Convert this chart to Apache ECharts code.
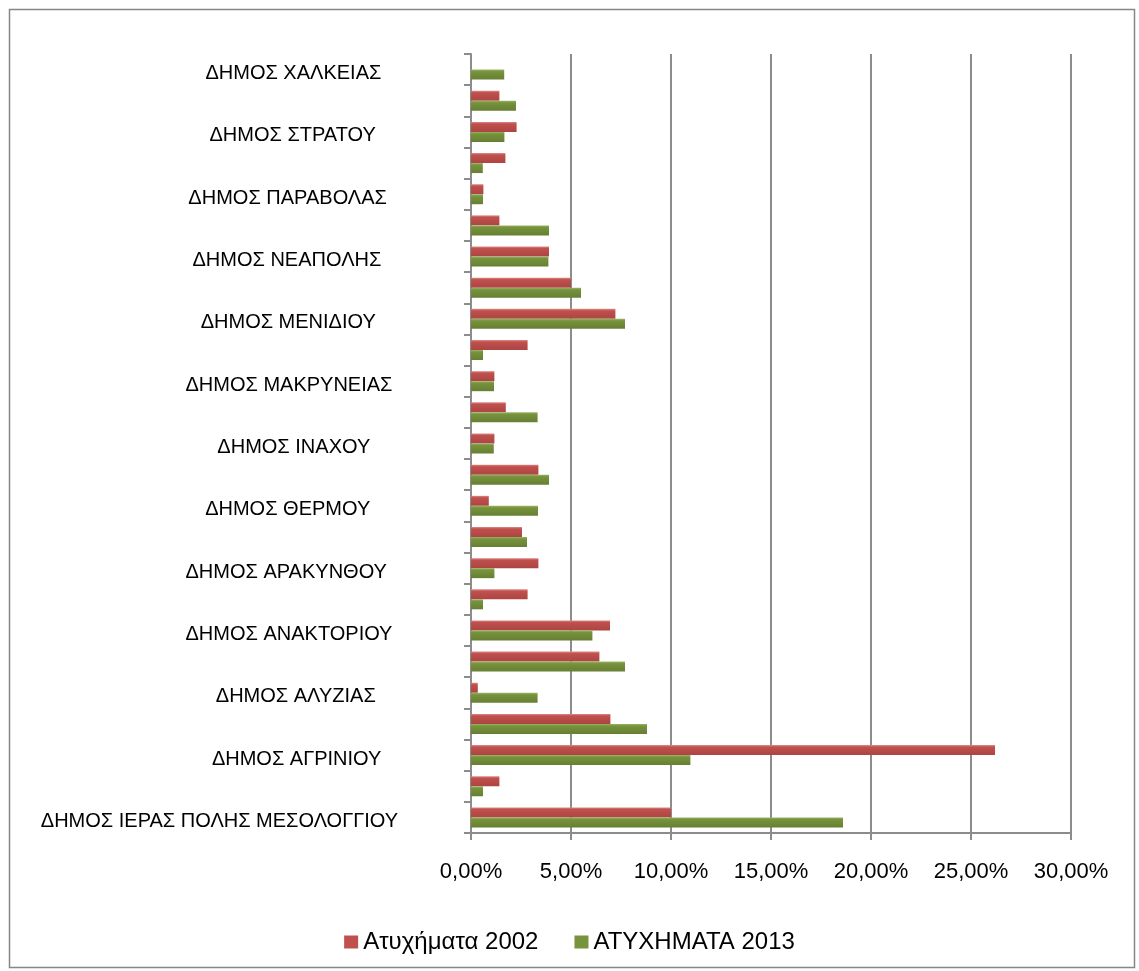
<!DOCTYPE html>
<html>
<head>
<meta charset="utf-8">
<title>Ατυχήματα ανά δήμο</title>
<script src="https://cdn.jsdelivr.net/npm/echarts@6/dist/echarts.min.js"></script>
<style>
	html, body { margin: 0; padding: 0; background: #fff; }
	#chart { width: 1139px; height: 971px; }
</style>
</head>
<body>
<div id="chart"></div>
<script>
//δήμοι, από κάτω προς τα πάνω (μόνο κάθε δεύτερη ετικέτα φαίνεται)
var categories = [
	'ΔΗΜΟΣ ΙΕΡΑΣ ΠΟΛΗΣ ΜΕΣΟΛΟΓΓΙΟΥ',
	'ΔΗΜΟΣ ΑΓΓΕΛΟΚΑΣΤΡΟΥ',
	'ΔΗΜΟΣ ΑΓΡΙΝΙΟΥ   ',
	'ΔΗΜΟΣ ΑΙΤΩΛΙΚΟΥ',
	'ΔΗΜΟΣ ΑΛΥΖΙΑΣ    ',
	'ΔΗΜΟΣ ΑΜΦΙΛΟΧΙΑΣ',
	'ΔΗΜΟΣ ΑΝΑΚΤΟΡΙΟΥ ',
	'ΔΗΜΟΣ ΑΠΟΔΟΤΙΑΣ',
	'ΔΗΜΟΣ ΑΡΑΚΥΝΘΟΥ  ',
	'ΔΗΜΟΣ ΑΣΤΑΚΟΥ',
	'ΔΗΜΟΣ ΘΕΡΜΟΥ     ',
	'ΔΗΜΟΣ ΘΕΣΤΙΕΩΝ',
	'ΔΗΜΟΣ ΙΝΑΧΟΥ     ',
	'ΔΗΜΟΣ ΚΕΚΡΟΠΙΑΣ',
	'ΔΗΜΟΣ ΜΑΚΡΥΝΕΙΑΣ ',
	'ΔΗΜΟΣ ΜΕΔΕΩΝΟΣ',
	'ΔΗΜΟΣ ΜΕΝΙΔΙΟΥ    ',
	'ΔΗΜΟΣ ΝΑΥΠΑΚΤΟΥ',
	'ΔΗΜΟΣ ΝΕΑΠΟΛΗΣ   ',
	'ΔΗΜΟΣ ΟΙΝΙΑΔΩΝ',
	'ΔΗΜΟΣ ΠΑΡΑΒΟΛΑΣ  ',
	'ΔΗΜΟΣ ΠΑΡΑΚΑΜΠΥΛΙΩΝ',
	'ΔΗΜΟΣ ΣΤΡΑΤΟΥ    ',
	'ΔΗΜΟΣ ΦΥΤΕΙΩΝ',
	'ΔΗΜΟΣ ΧΑΛΚΕΙΑΣ   '
];
//ονόματα σειρών
var seriesNames = ['Ατυχήματα 2002', 'ΑΤΥΧΗΜΑΤΑ 2013'];
//ποσοστά (%) 2002
var accidents2002 = [10.0, 1.42, 26.2, 6.97, 0.34, 6.42, 6.95, 2.83, 3.37, 2.55, 0.89, 3.37, 1.17, 1.74, 1.17, 2.83, 7.22, 5.0, 3.9, 1.42, 0.62, 1.72, 2.28, 1.42, 0];
//ποσοστά (%) 2013
var accidents2013 = [18.6, 0.6, 10.97, 8.8, 3.33, 7.7, 6.07, 0.6, 1.17, 2.8, 3.35, 3.9, 1.14, 3.33, 1.15, 0.6, 7.7, 5.5, 3.87, 3.9, 0.6, 0.59, 1.67, 2.25, 1.66];
//άξονας τιμών
var valueMin = 0;
var valueMax = 30;
var valueStep = 5;

var font = '"Liberation Sans", Arial, sans-serif';
var gridColor = '#8c8c8c';

//χρώμα μπάρας με ελαφριά σκίαση (ψευδο-3D)
function barColor(light, base, dark) {
	return new echarts.graphic.LinearGradient(0, 0, 0, 1, [
		{ offset: 0, color: light },
		{ offset: 0.2, color: base },
		{ offset: 1, color: dark }
	]);
}

var chart = echarts.init(document.getElementById('chart'), null, { renderer: 'canvas' });

var option = {
	backgroundColor: '#fff',
	animation: false,
	textStyle: { fontFamily: font },
	//πλαίσιο γραφήματος
	graphic: [{
		type: 'rect',
		left: 7,
		top: 7,
		shape: { width: 1125, height: 958 },
		style: { fill: 'none', stroke: '#868686', lineWidth: 1.5 },
		silent: true
	}],
	legend: {
		top: 925,
		left: 'center',
		itemWidth: 14,
		itemHeight: 13,
		itemGap: 36,
		textStyle: { fontSize: 24, color: '#000', fontFamily: font },
		data: [
			{ name: seriesNames[0], icon: 'rect', itemStyle: { color: '#c0504d' } },
			{ name: seriesNames[1], icon: 'rect', itemStyle: { color: '#77933c' } }
		]
	},
	grid: {
		left: 471,
		right: 68,
		top: 54,
		bottom: 138,
		containLabel: false
	},
	xAxis: {
		type: 'value',
		min: valueMin,
		max: valueMax,
		interval: valueStep,
		axisLine: { show: true, lineStyle: { color: gridColor, width: 2 } },
		axisTick: { show: true, length: 7, lineStyle: { color: gridColor, width: 2 } },
		splitLine: { show: true, lineStyle: { color: gridColor, width: 2 } },
		axisLabel: {
			fontSize: 22,
			color: '#000',
			margin: 28,
			formatter: function(v) {
				return v.toFixed(2).replace('.', ',') + '%';
			}
		}
	},
	yAxis: {
		type: 'category',
		data: categories,
		axisLine: { show: true, lineStyle: { color: gridColor, width: 2 } },
		axisTick: { show: true, interval: 0, length: 7, lineStyle: { color: gridColor, width: 2 } },
		axisLabel: {
			interval: 1,
			fontSize: 20,
			color: '#000',
			margin: 73,
			verticalAlign: 'top',
			lineHeight: 8
		}
	},
	series: [{
		name: seriesNames[0],
		type: 'bar',
		data: accidents2002,
		barWidth: 10,
		barGap: '0%',
		itemStyle: { color: barColor('#dc8a87', '#c0504d', '#ac4542') }
	}, {
		name: seriesNames[1],
		type: 'bar',
		data: accidents2013,
		barWidth: 10,
		barGap: '0%',
		itemStyle: { color: barColor('#9bb567', '#77933c', '#667f33') }
	}]
};

chart.setOption(option);
</script>
</body>
</html>
